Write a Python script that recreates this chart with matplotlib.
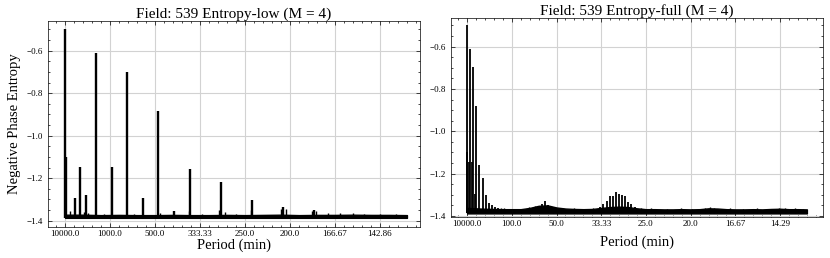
import numpy as np
import matplotlib.pyplot as plt
from matplotlib.ticker import MultipleLocator

plt.rcParams['font.family'] = ['Liberation Serif', 'DejaVu Serif']
plt.rcParams['mathtext.fontset'] = 'stix'

# ---- left panel: Entropy-low (frequency in 1/min) ----
low_peak_freq = [0.0, 0.00002, 0.000222, 0.000341, 0.000467, 0.000689, 0.001037,
                 0.001378, 0.001726, 0.002074, 0.002422, 0.00277, 0.003459,
                 0.004163, 0.004852, 0.005541]
low_peak_val = [-0.50, -1.10, -1.295, -1.147, -1.28, -0.613, -1.147,
                -0.698, -1.295, -0.883, -1.353, -1.159, -1.219,
                -1.303, -1.338, -1.35]

low_noise_freq = [0.00011, 0.00041, 0.00052, 0.00087, 0.00154, 0.00212, 0.00276,
                  0.00305, 0.00343, 0.00355, 0.00379, 0.00413, 0.00480, 0.00490,
                  0.00550, 0.00558, 0.00584, 0.00612, 0.00640, 0.00665, 0.00700,
                  0.00735]
low_noise_val = [-1.355, -1.36, -1.362, -1.368, -1.368, -1.366, -1.355,
                 -1.367, -1.35, -1.36, -1.367, -1.35, -1.345, -1.345,
                 -1.355, -1.355, -1.362, -1.366, -1.366, -1.367, -1.367,
                 -1.368]

low_band_freq = [0.0, 0.0004, 0.0008, 0.0012, 0.0016, 0.0020, 0.0024, 0.0028,
                 0.0032, 0.0036, 0.0040, 0.0044, 0.0048, 0.0052, 0.0056, 0.0060,
                 0.0064, 0.0068, 0.0072, 0.0076]
low_band_top = [-1.372, -1.372, -1.374, -1.373, -1.374, -1.374, -1.373, -1.374,
                -1.374, -1.373, -1.374, -1.373, -1.372, -1.374, -1.373, -1.373,
                -1.372, -1.373, -1.373, -1.374]
low_floor = -1.387

low_ticks = [0.0, 0.001, 0.002, 0.003, 0.004, 0.005, 0.006, 0.007]
low_labels = ['10000.0', '1000.0', '500.0', '333.33', '250.0', '200.0', '166.67', '142.86']

# ---- right panel: Entropy-full ----
full_peak_freq = [0.0, 0.00002, 0.00037, 0.000689, 0.00112, 0.001378, 0.00172,
                  0.002074, 0.00277, 0.003459, 0.004163, 0.004852, 0.005541,
                  0.00623, 0.0069,
                  0.0168, 0.0174, 0.0181,
                  0.0297, 0.03045, 0.03119, 0.03187, 0.03254, 0.03328, 0.03396,
                  0.03463, 0.03537, 0.03604, 0.03672, 0.03746]
full_peak_val = [-0.50, -1.10, -1.145, -0.613, -1.145, -0.698, -1.295,
                 -0.883, -1.159, -1.219, -1.303, -1.338, -1.35,
                 -1.358, -1.362,
                 -1.345, -1.33, -1.347,
                 -1.36, -1.345, -1.33, -1.305, -1.305, -1.285, -1.295,
                 -1.30, -1.305, -1.335, -1.345, -1.36]

full_noise_freq = [0.0076, 0.0083, 0.0105, 0.0121, 0.0139, 0.0152, 0.0160,
                   0.0193, 0.0209, 0.0238, 0.0262, 0.0281, 0.0389, 0.0412,
                   0.0447, 0.0478, 0.0503, 0.0531, 0.0543, 0.0552, 0.0589,
                   0.0617, 0.0648, 0.0676, 0.0698, 0.0712, 0.0734, 0.0752]
full_noise_val = [-1.362, -1.364, -1.365, -1.365, -1.358, -1.355, -1.352,
                  -1.357, -1.362, -1.364, -1.365, -1.364, -1.362, -1.364,
                  -1.365, -1.364, -1.365, -1.364, -1.360, -1.361, -1.364,
                  -1.365, -1.364, -1.365, -1.362, -1.363, -1.364, -1.365]

full_band_freq = [0.000, 0.002, 0.004, 0.006, 0.008, 0.010, 0.012, 0.014, 0.016,
                  0.018, 0.020, 0.022, 0.024, 0.026, 0.028, 0.030, 0.032, 0.034,
                  0.036, 0.038, 0.040, 0.042, 0.044, 0.046, 0.048, 0.050, 0.052,
                  0.054, 0.056, 0.058, 0.060, 0.062, 0.064, 0.066, 0.068, 0.070,
                  0.072, 0.074, 0.076]
full_band_top = [-1.362, -1.364, -1.366, -1.367, -1.368, -1.368, -1.368, -1.362,
                 -1.352, -1.350, -1.360, -1.365, -1.367, -1.368, -1.367, -1.362,
                 -1.358, -1.356, -1.358, -1.364, -1.368, -1.368, -1.369, -1.369,
                 -1.368, -1.369, -1.368, -1.364, -1.365, -1.368, -1.369, -1.369,
                 -1.368, -1.369, -1.367, -1.366, -1.368, -1.368, -1.369]
full_floor = -1.388

full_ticks = [0.0, 0.01, 0.02, 0.03, 0.04, 0.05, 0.06, 0.07]
full_labels = ['10000.0', '100.0', '50.0', '33.33', '25.0', '20.0', '16.67', '14.29']


def style_axes(ax, ticks, labels, minor_x, labelpad):
    ax.set_xticks(ticks)
    ax.set_xticklabels(labels)
    ax.xaxis.set_minor_locator(MultipleLocator(minor_x))
    ax.yaxis.set_major_locator(MultipleLocator(0.2))
    ax.yaxis.set_minor_locator(MultipleLocator(0.05))
    ax.tick_params(which='both', direction='in', top=True, right=True, labelsize=6.5)
    ax.tick_params(which='major', length=3, width=0.5)
    ax.tick_params(which='minor', length=1.5, width=0.5)
    ax.tick_params(axis='x', pad=2.5)
    for s in ax.spines.values():
        s.set_linewidth(0.5)
    ax.grid(True, color='#d2d2d2', lw=0.8)
    ax.set_axisbelow(True)
    ax.set_xlabel('Period (min)', fontsize=10.5, labelpad=labelpad)


fig = plt.figure(figsize=(8.3, 2.58), dpi=100)

ax1 = fig.add_axes([48 / 830, 1 - 227 / 258, 372 / 830, 206 / 258])
ax1.fill_between(low_band_freq, low_floor, low_band_top, color='k', lw=1.0)
ax1.vlines(low_noise_freq, low_floor, low_noise_val, color='k', lw=1.0)
ax1.vlines(low_peak_freq, low_floor, low_peak_val, color='k', lw=1.7)
ax1.set_xlim(-0.00038, 0.00789)
ax1.set_ylim(-1.43, -0.46)
style_axes(ax1, low_ticks, low_labels, 0.0002, 0)
ax1.set_ylabel('Negative Phase Entropy', fontsize=10.5)
ax1.set_title('Field: 539 Entropy-low (M = 4)', fontsize=11, pad=2)

ax2 = fig.add_axes([451 / 830, 1 - 217 / 258, 372 / 830, 199 / 258])
ax2.fill_between(full_band_freq, full_floor, full_band_top, color='k', lw=1.0)
ax2.vlines(full_noise_freq, full_floor, full_noise_val, color='k', lw=1.0)
ax2.vlines(full_peak_freq, full_floor, full_peak_val, color='k', lw=1.3)
ax2.set_xlim(-0.0036, 0.0796)
ax2.set_ylim(-1.405, -0.465)
style_axes(ax2, full_ticks, full_labels, 0.002, 5)
ax2.set_title('Field: 539 Entropy-full (M = 4)', fontsize=11, pad=2)

fig.savefig('out.png', dpi=100)
